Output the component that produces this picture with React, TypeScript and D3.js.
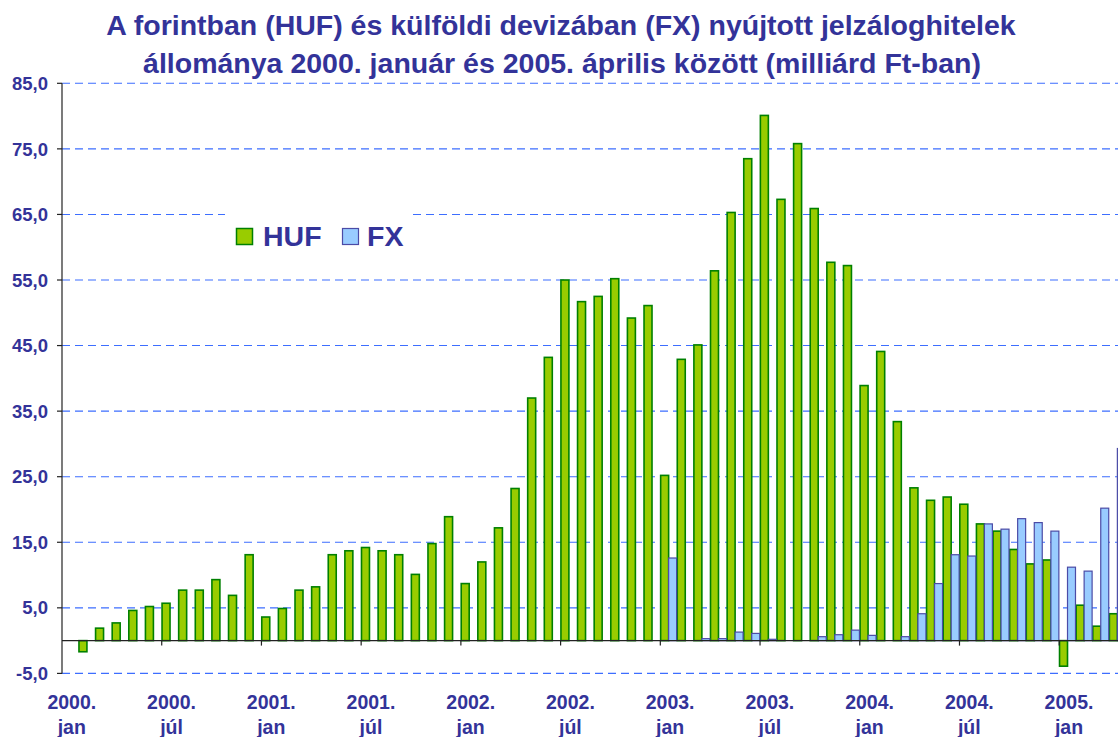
import * as d3 from "d3";

const years = [2000, 2001, 2002, 2003, 2004, 2005];
const monthNames = ["jan", "feb", "már", "ápr", "máj", "jún", "júl", "aug", "szep", "okt", "nov", "dec"];
const categories = years.flatMap((yr) => monthNames.map((m) => `${yr}. ${m}`)).slice(0, 64);

// monthly values, milliard Ft (first month empty)
const hufValues: (number | null)[] = [
  null, -1.7, 1.9, 2.7, 4.6, 5.2, 5.7, 7.7, 7.7, 9.3, 6.9, 13.1,
  3.6, 4.9, 7.7, 8.2, 13.1, 13.7, 14.2, 13.7, 13.1, 10.1, 14.8, 18.9,
  8.7, 12.0, 17.2, 23.2, 37.0, 43.2, 55.0, 51.7, 52.5, 55.2, 49.2, 51.1,
  25.2, 42.9, 45.1, 56.4, 65.3, 73.5, 80.1, 67.3, 75.8, 65.9, 57.7, 57.2,
  38.9, 44.1, 33.4, 23.3, 21.4, 21.9, 20.8, 17.8, 16.7, 13.9, 11.7, 12.3,
  -3.9, 5.4, 2.2, 4.1,
];
const fxValues: (number | null)[] = [
  null, null, null, null, null, null, null, null, null, null, null, null,
  null, null, null, null, null, null, null, null, null, null, null, null,
  null, null, null, null, null, null, null, null, null, null, null, null,
  12.6, null, 0.3, 0.3, 1.3, 1.1, 0.2, null, null, 0.6, 0.9, 1.6,
  0.8, null, 0.6, 4.1, 8.7, 13.1, 12.9, 17.8, 17.0, 18.6, 18.0, 16.7,
  11.2, 10.6, 20.2, 29.3,
];
const xTickLabels = [
  ["2000.", "jan"], ["2000.", "júl"], ["2001.", "jan"], ["2001.", "júl"],
  ["2002.", "jan"], ["2002.", "júl"], ["2003.", "jan"], ["2003.", "júl"],
  ["2004.", "jan"], ["2004.", "júl"], ["2005.", "jan"],
];
const yTicks = [-5, 5, 15, 25, 35, 45, 55, 65, 75, 85];

const W = 1118;
const H = 737;
const left = 62;
const step = 16.62;
const textColor = "#333399";
const font = "Arial, 'Liberation Sans', sans-serif";

export default function App() {
  const x = d3
    .scaleBand<string>()
    .domain(categories)
    .range([left, left + categories.length * step])
    .paddingInner(0.04)
    .paddingOuter(0.02);
  const sub = d3.scaleBand<string>().domain(["HUF", "FX"]).range([0, x.bandwidth()]);
  const y = d3.scaleLinear().domain([-5, 85]).range([673.4, 83.3]);
  const y0 = y(0);
  // hungarian style: decimal comma, plain hyphen for minus
  const fmt = (v: number) => d3.format(".1f")(v).replace(".", ",").replace("\u2212", "-");

  const bar = (v: number | null, i: number, key: string) => {
    if (v === null) return null;
    const bx = (x(categories[i]) as number) + (sub(key) as number);
    return (
      <rect
        key={key + i}
        x={bx}
        y={Math.min(y(v), y0)}
        width={sub.bandwidth()}
        height={Math.abs(y(v) - y0)}
        fill={key === "HUF" ? "#99CC00" : "#99CCFF"}
        stroke={key === "HUF" ? "#008000" : "#4B4BA6"}
        strokeWidth={key === "HUF" ? 1.6 : 1.2}
      />
    );
  };

  return (
    <svg width={W} height={H} style={{ position: "absolute", left: 0, top: 0, background: "#fff" }} fontFamily={font}>
      {/* title */}
      <g fill={textColor} fontWeight="bold" fontSize={28.5} textAnchor="middle">
        <text x={561} y={35}>A forintban (HUF) és külföldi devizában (FX) nyújtott jelzáloghitelek</text>
        <text x={562} y={73}>állománya 2000. január és 2005. április között (milliárd Ft-ban)</text>
      </g>

      {/* gridlines */}
      {yTicks.map((t) => (
        <line key={t} x1={left} x2={W} y1={y(t)} y2={y(t)} stroke="#3D6EFF" strokeWidth={1.1} strokeDasharray="8 5" />
      ))}

      {/* bars */}
      {hufValues.map((v, i) => bar(v, i, "HUF"))}
      {fxValues.map((v, i) => bar(v, i, "FX"))}

      {/* axes */}
      <line x1={left} x2={W} y1={y0} y2={y0} stroke="#222" strokeWidth={1.2} />
      <line x1={left} x2={left} y1={y(85)} y2={y(-5)} stroke="#222" strokeWidth={1.2} />
      {yTicks.map((t) => (
        <g key={t}>
          <line x1={left - 5} x2={left} y1={y(t)} y2={y(t)} stroke="#222" strokeWidth={1.2} />
          <text x={48} y={y(t)} dy="0.36em" textAnchor="end" fill={textColor} fontWeight="bold" fontSize={18.5}>
            {fmt(t)}
          </text>
        </g>
      ))}
      {xTickLabels.map((lab, k) => {
        const i = k * 6;
        const tx = x.range()[0] + i * x.step();
        const cx = (x(categories[i]) as number) + x.bandwidth() / 2 + 1.5;
        return (
          <g key={k}>
            {k > 0 && <line x1={tx} x2={tx} y1={y0} y2={y0 + 5} stroke="#222" strokeWidth={1.2} />}
            <text x={cx} y={709} textAnchor="middle" fill={textColor} fontWeight="bold" fontSize={19.5}>
              {lab[0]}
            </text>
            <text x={cx} y={734} textAnchor="middle" fill={textColor} fontWeight="bold" fontSize={19.5}>
              {lab[1]}
            </text>
          </g>
        );
      })}

      {/* legend */}
      <g>
        <rect x={225} y={204} width={188} height={48} fill="#fff" />
        <rect x={236.5} y={228.5} width={16} height={16} fill="#99CC00" stroke="#008000" strokeWidth={1.5} />
        <text x={263} y={246} fill={textColor} fontWeight="bold" fontSize={28.5}>HUF</text>
        <rect x={342.5} y={228.5} width={16} height={16} fill="#99CCFF" stroke="#4B4BA6" strokeWidth={1.2} />
        <text x={367} y={246} fill={textColor} fontWeight="bold" fontSize={28.5}>FX</text>
      </g>
    </svg>
  );
}
